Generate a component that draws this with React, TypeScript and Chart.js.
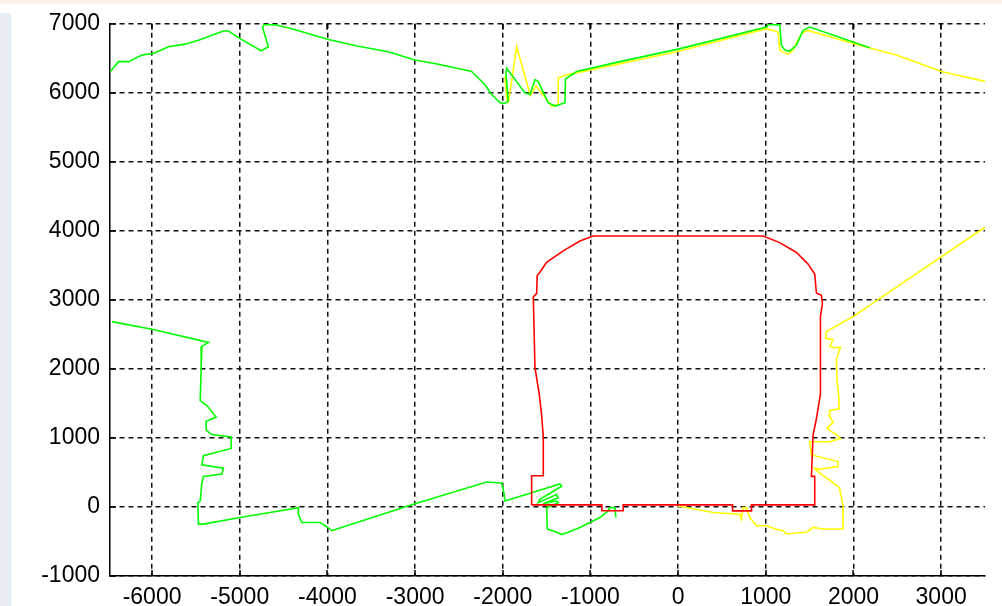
import { useEffect, useRef } from 'react';
import { Chart, registerables } from 'chart.js';

Chart.register(...registerables);

const xTickValues = [-6000, -5000, -4000, -3000, -2000, -1000, 0, 1000, 2000, 3000];
const yTickValues = [-1000, 0, 1000, 2000, 3000, 4000, 5000, 6000, 7000];
const xMin = -6480;
const xMax = 3500;
const yMin = -1000;
const yMax = 7000;

const redOutline: [number, number][] = [
  [-1671, 30], [-1671, 453], [-1538, 453], [-1538, 1016], [-1557, 1326], [-1584, 1635],
  [-1633, 2017], [-1652, 3043], [-1614, 3090], [-1607, 3352], [-1577, 3400], [-1500, 3543],
  [-1311, 3710], [-1120, 3853], [-969, 3925], [969, 3925], [1159, 3830], [1349, 3687],
  [1482, 3519], [1558, 3376], [1577, 3100], [1634, 3066], [1646, 2947], [1623, 2757],
  [1623, 1635], [1577, 1278], [1539, 1040], [1520, 443], [1558, 443], [1558, 30],
  [837, 30], [837, -57], [621, -57], [621, 30], [-627, 30], [-627, -55], [-870, -55],
  [-870, 30], [-1671, 30],
];

const greenTop: [number, number][] = [
  [-6476, 6309], [-6382, 6452], [-6268, 6452], [-6116, 6548], [-5984, 6571], [-5813, 6667],
  [-5622, 6705], [-5471, 6762], [-5186, 6896], [-5129, 6896], [-4996, 6786], [-4756, 6609],
  [-4673, 6667], [-4741, 6953], [-4720, 6990], [-4597, 6985], [-4406, 6929], [-3989, 6772],
  [-3647, 6676], [-3305, 6595], [-3001, 6476], [-2735, 6414], [-2355, 6309], [-2203, 6118],
  [-2127, 5975], [-2032, 5856], [-1975, 5847], [-1938, 5880], [-1964, 6285], [-1956, 6357],
  [-1747, 5999], [-1690, 5975], [-1633, 6190], [-1596, 6166], [-1482, 5856], [-1405, 5808],
  [-1291, 5856], [-1285, 6200], [-1158, 6309], [-665, 6452], [0, 6633], [1007, 6953],
  [1030, 6990], [1159, 6985], [1178, 6691], [1216, 6619], [1273, 6605], [1349, 6691],
  [1425, 6905], [1501, 6953], [1995, 6738], [2185, 6652],
];

const greenBottom: [number, number][] = [
  [-6458, 2685], [-6002, 2575], [-5357, 2385], [-5432, 2327], [-5440, 2017], [-5451, 1541],
  [-5375, 1469], [-5269, 1302], [-5383, 1240], [-5383, 1112], [-5318, 1049], [-5098, 1016],
  [-5098, 848], [-5414, 744], [-5432, 611], [-5186, 562], [-5204, 476], [-5414, 443],
  [-5432, 348], [-5451, 86], [-5478, 62], [-5471, -248], [-5414, -248], [-4996, -153],
  [-4331, -10], [-4331, -105], [-4292, -224], [-4084, -224], [-4008, -286], [-3950, -343],
  [-3893, -320], [-3020, 39], [-2184, 362], [-2013, 348], [-1987, 205], [-1975, 86],
  [-1671, 205], [-1348, 333], [-1329, 300], [-1576, 110], [-1596, 62], [-1386, 181],
  [-1368, 133], [-1539, 47], [-1386, 86], [-1368, 62], [-1500, -10], [-1493, -319],
  [-1386, -367], [-1329, -400], [-1254, -367], [-1120, -296], [-1006, -224], [-892, -153],
  [-798, -57], [-778, -10], [-721, -10], [-710, -153],
];

const yellowTop: [number, number][] = [
  [-1975, 6240], [-1955, 5900], [-1935, 5870], [-1842, 6667], [-1685, 5960], [-1620, 6100],
  [-1443, 5808], [-1368, 5830], [-1368, 6213], [-1272, 6261], [-1120, 6300], [-18, 6595],
  [1007, 6929], [1140, 6881], [1159, 6619], [1254, 6557], [1311, 6619], [1406, 6857],
  [1482, 6905], [1995, 6714], [2489, 6548], [3002, 6309], [3500, 6166],
];

const yellowBottom: [number, number][] = [
  [0, 14], [399, -81], [703, -105], [722, -176], [741, -10], [779, -10], [817, -153],
  [893, -272], [1007, -272], [1102, -319], [1197, -343], [1235, -391], [1463, -367],
  [1539, -296], [1653, -319], [1881, -319], [1881, 14], [1840, 280], [1600, 510],
  [1558, 562], [1600, 545], [1824, 587], [1824, 658], [1520, 754], [1501, 944],
  [1729, 944], [1851, 992], [1805, 1049], [1698, 1135], [1767, 1230], [1721, 1326],
  [1729, 1398], [1835, 1421], [1835, 1564], [1812, 1850], [1805, 2136], [1851, 2318],
  [1786, 2303], [1729, 2327], [1767, 2422], [1683, 2446], [1691, 2542], [1995, 2757],
  [3500, 4053],
];

const toPoints = (arr: [number, number][]) => arr.map(([x, y]) => ({ x, y }));

const W = 1002;
const H = 606;

const bgPlugin = {
  id: 'pageBg',
  beforeDraw(chart: any) {
    const ctx = chart.ctx;
    ctx.save();
    ctx.fillStyle = '#ffffff';
    ctx.fillRect(0, 0, W, H);
    ctx.fillStyle = '#fcf1e9';
    ctx.fillRect(0, 0, W, 4);
    ctx.fillStyle = '#e8edf5';
    ctx.fillRect(0, 13, 11, H - 13);
    ctx.restore();
  },
};

const innerTicksPlugin = {
  id: 'innerTicks',
  beforeDatasetsDraw(chart: any) {
    const { ctx, chartArea, scales } = chart;
    const { left, top, bottom } = chartArea;
    ctx.save();
    ctx.strokeStyle = '#000';
    ctx.lineWidth = 1.5;
    ctx.setLineDash([]);
    ctx.beginPath();
    for (const v of xTickValues) {
      const px = Math.round(scales.x.getPixelForValue(v));
      ctx.moveTo(px, bottom);
      ctx.lineTo(px, bottom - 6);
      ctx.moveTo(px, top);
      ctx.lineTo(px, top + 6);
    }
    for (const v of yTickValues) {
      const py = Math.round(scales.y.getPixelForValue(v));
      ctx.moveTo(left, py);
      ctx.lineTo(left + 6, py);
    }
    ctx.stroke();
    ctx.restore();
  },
};

const tickFont = { family: '"Liberation Sans", Arial, sans-serif', size: 23 };

export default function App() {
  const canvasRef = useRef<HTMLCanvasElement | null>(null);

  useEffect(() => {
    document.body.style.margin = '0';
    const canvas = canvasRef.current;
    if (!canvas) return;
    const lineDs = (label: string, arr: [number, number][], color: string) => ({
      label,
      data: toPoints(arr),
      showLine: true,
      borderColor: color,
      backgroundColor: color,
      borderWidth: 1.6,
      pointRadius: 0,
      tension: 0,
      fill: false,
      clip: 0,
    });
    const chart = new Chart(canvas, {
      type: 'scatter',
      data: {
        datasets: [
          lineDs('red', redOutline, '#ff0000'),
          lineDs('greenTop', greenTop, '#00ff00'),
          lineDs('greenBottom', greenBottom, '#00ff00'),
          lineDs('yellowTop', yellowTop, '#ffff00'),
          lineDs('yellowBottom', yellowBottom, '#ffff00'),
        ],
      },
      options: {
        responsive: false,
        animation: false,
        events: [],
        layout: { padding: { top: 17, right: 17, left: 0, bottom: 0 } },
        plugins: { legend: { display: false }, tooltip: { enabled: false } },
        scales: {
          x: {
            type: 'linear',
            min: xMin,
            max: xMax,
            afterBuildTicks: (s: any) => {
              s.ticks = xTickValues.map((value) => ({ value }));
            },
            afterFit: (s: any) => {
              s.height = 30;
            },
            ticks: {
              callback: (v: any) => String(v),
              font: tickFont,
              color: '#000',
              padding: 8,
              maxRotation: 0,
              autoSkip: false,
            },
            grid: { color: '#111', lineWidth: 1.5, drawTicks: false },
            border: { display: true, color: '#000', width: 1.5, dash: [5, 4] },
          },
          y: {
            type: 'linear',
            min: yMin,
            max: yMax,
            afterBuildTicks: (s: any) => {
              s.ticks = yTickValues.map((value) => ({ value }));
            },
            afterFit: (s: any) => {
              s.width = 110;
            },
            ticks: {
              callback: (v: any) => String(v),
              font: tickFont,
              color: '#000',
              padding: 10,
              autoSkip: false,
            },
            grid: { color: '#111', lineWidth: 1.5, drawTicks: false },
            border: { display: true, color: '#000', width: 1.5, dash: [5, 4] },
          },
        },
      },
      plugins: [bgPlugin, innerTicksPlugin],
    });
    return () => chart.destroy();
  }, []);

  return (
    <canvas
      ref={canvasRef}
      width={W}
      height={H}
      style={{ display: 'block', width: W, height: H }}
    />
  );
}
